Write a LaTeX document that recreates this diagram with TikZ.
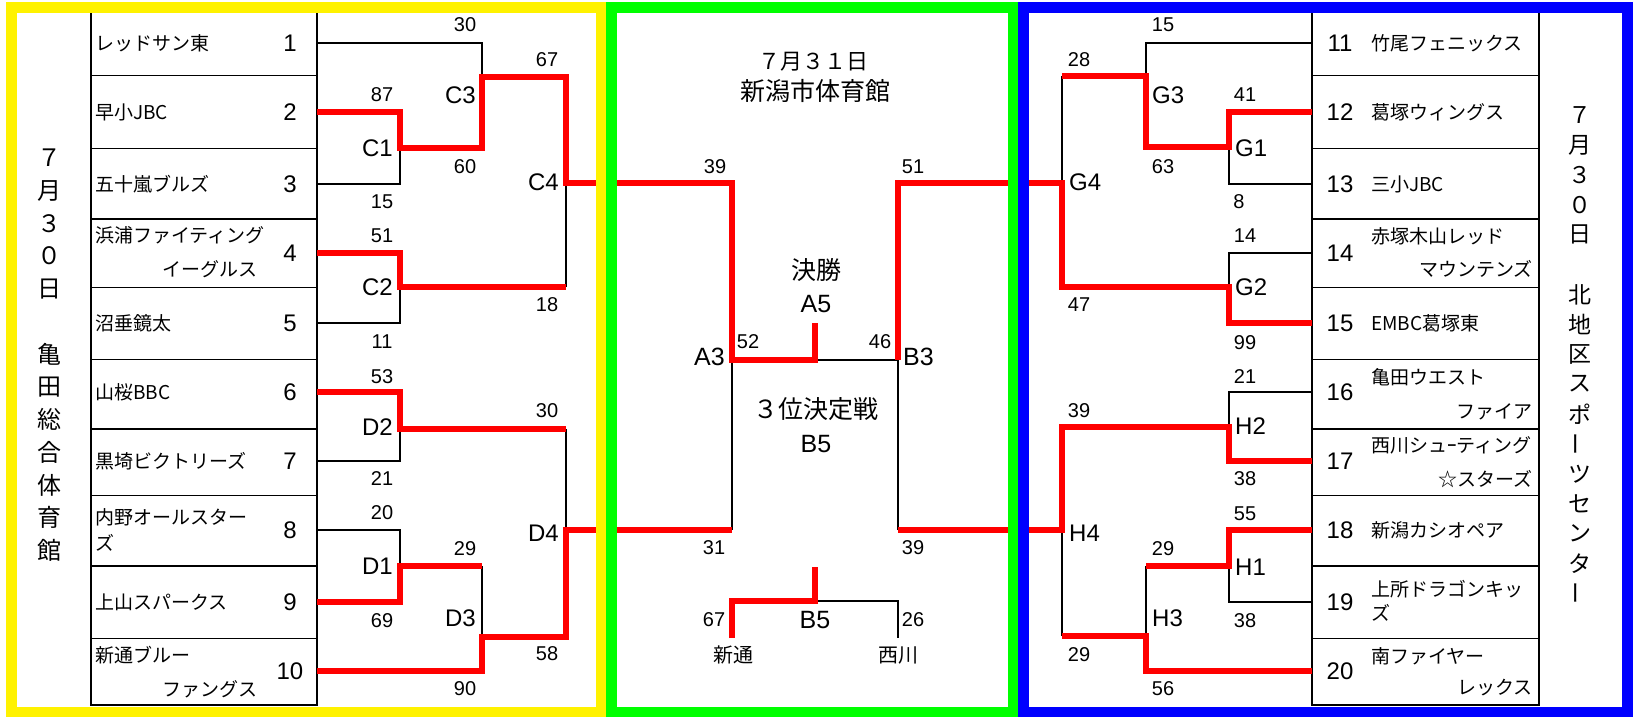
\documentclass[tikz,border=0pt]{standalone}
\usepackage{fontspec}
\setmainfont{Noto Sans CJK JP}
\newfontfamily\lat{Liberation Sans}

\begin{document}
\begin{tikzpicture}[x=1pt,y=-1pt,
    win line/.style={draw=red,line width=6.7pt},
    lose line/.style={draw=black,line width=2.5pt},
    cell/.style={draw=black,line width=1.2pt},
    frame/.style={line width=11pt},
    team node/.style={inner sep=0pt,font=\fontsize{19}{19}\selectfont},
    seed node/.style={inner sep=0pt,font=\lat\fontsize{24}{24}\selectfont},
    score node/.style={inner sep=0pt,font=\lat\fontsize{20}{20}\selectfont},
    round node/.style={inner sep=0pt,font=\lat\fontsize{24}{24}\selectfont},
    big node/.style={inner sep=0pt,font=\lat\fontsize{25}{25}\selectfont},
    title node/.style={inner sep=0pt,font=\fontsize{25}{25}\selectfont},
    vert node/.style={inner sep=0pt,font=\fontsize{24}{24}\selectfont}]
    \useasboundingbox (0,0) rectangle (1633,717);

    \foreach \a/\b in {10/75.7,75.7/148.3,148.3/219,219/287.3,287.3/359.3,359.3/429,429/495.7,495.7/566,566/638.3,638.3/705}{
        \draw[cell] (91,\a) rectangle (317,\b);
        \draw[cell] (1312,\a) rectangle (1539,\b);
    }
    \foreach \y [count=\i] in {43,112,184,253,323,392,461,530,602,671}{
        \pgfmathtruncatemacro{\j}{\i+10}
        \coordinate (t\i) at (317,\y);
        \coordinate (t\j) at (1312,\y);
        \node[seed node] (k\i) at (290,\y) {\i};
        \node[seed node] (k\j) at (1340,\y) {\j};
    }

    \node[team node,anchor=west] (n1) at (95,43) {レッドサン東};
    \node[team node,anchor=west] (n2) at (95,112) {早小JBC};
    \node[team node,anchor=west] (n3) at (95,184) {五十嵐ブルズ};
    \node[team node,anchor=west] (n4) at (95,235) {浜浦ファイティング};
    \node[team node,anchor=east] (n4b) at (258,269) {イーグルス};
    \node[team node,anchor=west] (n5) at (95,323) {沼垂鏡太};
    \node[team node,anchor=west] (n6) at (95,392) {山桜BBC};
    \node[team node,anchor=west] (n7) at (95,461) {黒埼ビクトリーズ};
    \node[team node,anchor=west] (n8) at (95,517) {内野オールスター};
    \node[team node,anchor=west] (n8b) at (95,543) {ズ};
    \node[team node,anchor=west] (n9) at (95,602) {上山スパークス};
    \node[team node,anchor=west] (n10) at (95,655) {新通ブルー};
    \node[team node,anchor=east] (n10b) at (258,689) {ファングス};

    \node[team node,anchor=west] (n11) at (1371,43) {竹尾フェニックス};
    \node[team node,anchor=west] (n12) at (1371,112) {葛塚ウィングス};
    \node[team node,anchor=west] (n13) at (1371,184) {三小JBC};
    \node[team node,anchor=west] (n14) at (1371,236) {赤塚木山レッド};
    \node[team node,anchor=east] (n14b) at (1533,269) {マウンテンズ};
    \node[team node,anchor=west] (n15) at (1371,323) {EMBC葛塚東};
    \node[team node,anchor=west] (n16) at (1371,377) {亀田ウエスト};
    \node[team node,anchor=east] (n16b) at (1533,412) {ファイア};
    \node[team node,anchor=west] (n17) at (1371,445) {西川シュｰティング};
    \node[team node,anchor=east] (n17b) at (1533,479) {☆スターズ};
    \node[team node,anchor=west] (n18) at (1371,530) {新潟カシオペア};
    \node[team node,anchor=west] (n19) at (1371,589) {上所ドラゴンキッ};
    \node[team node,anchor=west] (n19b) at (1371,613) {ズ};
    \node[team node,anchor=west] (n20) at (1371,656) {南ファイヤー};
    \node[team node,anchor=east] (n20b) at (1533,688) {レックス};

    \coordinate (C1) at (400,148);
    \coordinate (C2) at (400,287);
    \coordinate (C3) at (482,77);
    \coordinate (C4) at (566,183);
    \coordinate (D1) at (400,566);
    \coordinate (D2) at (400,429);
    \coordinate (D3) at (482,637);
    \coordinate (D4) at (566,530);
    \coordinate (A3) at (732,360);
    \coordinate (A5) at (815,323);
    \coordinate (B3) at (898,360);
    \coordinate (B5) at (815,601);
    \coordinate (B5t) at (815,567);
    \coordinate (f1) at (732,638);
    \coordinate (f2) at (898,638);
    \coordinate (G1) at (1229,147);
    \coordinate (G2) at (1229,287);
    \coordinate (G3) at (1146,76);
    \coordinate (G4) at (1062,183);
    \coordinate (H1) at (1229,566);
    \coordinate (H2) at (1229,427);
    \coordinate (H3) at (1146,636);
    \coordinate (H4) at (1062,530);

    \path[lose line]
        (C1) |- (t3) (t1) -| (C3) (C2) |- (t5) (C2 -| C4) -- (C4)
        (D2) |- (t7) (D2 -| D4) -- (D4) (t8) -| (D1) (D1 -| D3) -- (D3)
        (D4 -| A3) -- (A3) (A5 |- B3) -- (B3) (H4 -| B3) -- (B3) (B5) -| (f2)
        (G1) |- (t13) (t11) -| (G3) (G3 -| G4) -- (G4) (t14) -| (G2)
        (t16) -| (H2) (H1) |- (t19) (H1 -| H3) -- (H3) (H3 -| H4) -- (H4);
    \path[win line] (t2) -| (C1) -| (C3) -| (C4) -| (A3) -| (A5);
    \path[win line] (t4) -| (C2) -- (C2 -| C4);
    \path[win line] (t6) -| (D2) -- (D2 -| D4);
    \path[win line] (t9) -| (D1) -- (D1 -| D3);
    \path[win line] (t10) -| (D3) -| (D4) -- (D4 -| A3);
    \path[win line] (t12) -| (G1) -| (G3) -- (G3 -| G4);
    \path[win line] (t15) -| (G2) -| (G4) -| (B3);
    \path[win line] (t17) -| (H2) -| (H4) -- (H4 -| B3);
    \path[win line] (t18) -| (H1) -- (H1 -| H3);
    \path[win line] (t20) -| (H3) -- (H3 -| H4);
    \path[win line] (f1) |- (B5) -- (B5t);

    \foreach \x/\y/\v [count=\k] in {465/25/30,382/95/87,382/202/15,465/167/60,547/60/67,547/305/18,382/236/51,382/342/11,
        382/377/53,547/411/30,382/479/21,382/513/20,465/549/29,382/621/69,547/654/58,465/689/90,
        715/167/39,913/167/51,748/342/52,880/342/46,714/548/31,913/548/39,714/620/67,913/620/26,
        1163/25/15,1079/60/28,1245/95/41,1163/167/63,1239/202/8,1245/236/14,1079/305/47,1245/343/99,
        1245/377/21,1079/411/39,1245/479/38,1245/514/55,1163/549/29,1245/621/38,1079/655/29,1163/689/56}
        \node[score node] (sc\k) at (\x,\y) {\v};

    \foreach \n/\x/\y in {C1/393/148,C2/393/287,C3/476/95,C4/559/182,D2/393/427,D1/393/566,D3/476/618,D4/559/533}
        \node[round node,anchor=east] (r\n) at (\x,\y) {\n};
    \foreach \n/\x/\y in {G3/1152/95,G1/1235/148,G4/1069/182,G2/1235/287,H2/1235/426,H4/1069/533,H1/1235/567,H3/1152/618}
        \node[round node,anchor=west] (r\n) at (\x,\y) {\n};

    \node[big node,anchor=east] (rA3) at (725,357) {A3};
    \node[big node,anchor=west] (rB3) at (903,357) {B3};
    \node[title node] (final) at (816,270) {決勝};
    \node[big node] (rA5) at (816,304) {A5};
    \node[title node] (third) at (816,409) {３位決定戦};
    \node[big node] (rB5) at (816,444) {B5};
    \node[big node] (rB5b) at (815,620) {B5};
    \node[team node,font=\fontsize{20}{20}\selectfont] (shintori) at (733,655) {新通};
    \node[team node,font=\fontsize{20}{20}\selectfont] (nishikawa) at (898,655) {西川};
    \node[title node,font=\fontsize{22}{22}\selectfont] (day2) at (813,62) {７月３１日};
    \node[title node] (hall2) at (815,91) {新潟市体育館};

    \foreach \i/\c in {1/７,2/月,3/３,4/０,5/日,7/亀,8/田,9/総,10/合,11/体,12/育,13/館}
        \node[vert node] (vl\i) at (49,158+32.7*\i-32.7) {\c};
    \foreach \i/\c in {1/７,2/月,3/３,4/０,5/日,7/北,8/地,9/区,10/ス,11/ポ,13/ツ,14/セ,15/ン,16/タ}
        \node[vert node,font=\fontsize{23}{23}\selectfont] (vr\i) at (1580,115+29.9*\i-29.9) {\c};
    \node[vert node,font=\fontsize{23}{23}\selectfont,rotate=90] (vr12) at (1580,443.9) {ー};
    \node[vert node,font=\fontsize{23}{23}\selectfont,rotate=90] (vr17) at (1580,593.4) {ー};

    \draw[frame,yellow] (11.5,8) rectangle (601,712);
    \draw[frame,green] (611.5,8) rectangle (1013,712);
    \draw[frame,blue] (1023.5,8) rectangle (1627.5,712);
\end{tikzpicture}
\end{document}
